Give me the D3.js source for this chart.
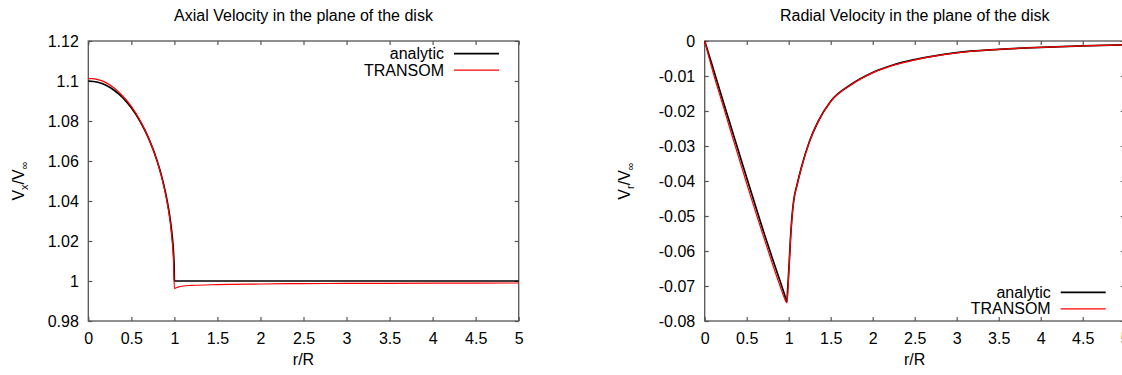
<!DOCTYPE html>
<html>
<head>
<meta charset="utf-8">
<script src="https://cdn.jsdelivr.net/npm/d3@7"></script>
<style>
  body { margin: 0; background: #fff; }
  svg { display: block; font-family: "Liberation Sans", Arial, sans-serif; }
  .tick text { font-size: 16px; fill: #000; }
  .tick line { stroke: #555; stroke-width: 1.2; }
</style>
</head>
<body>
<svg id="chart" width="1122" height="375"></svg>
<script>
// x ticks shared by both panels
const xTicks = [0, 0.5, 1, 1.5, 2, 2.5, 3, 3.5, 4, 4.5, 5];
const axialTicks = [0.98, 1, 1.02, 1.04, 1.06, 1.08, 1.1, 1.12];
const radialTicks = [-0.08, -0.07, -0.06, -0.05, -0.04, -0.03, -0.02, -0.01, 0];

// axial velocity, analytic
const axialAnalyticR = [0, 0.1, 0.2, 0.3, 0.4, 0.5, 0.6, 0.7, 0.8, 0.85, 0.9, 0.95, 0.97, 0.99, 0.998, 1.0, 2.0, 3.0, 4.0, 5.0];
const axialAnalyticV = [1.1, 1.0995, 1.098, 1.0954, 1.0917, 1.0866, 1.08, 1.0714, 1.06, 1.0527, 1.0436, 1.0312, 1.0243, 1.014, 1.006, 1.0, 1.0, 1.0, 1.0, 1.0];

// axial velocity, TRANSOM
const axialTransomR = [0, 0.05, 0.1, 0.2, 0.3, 0.4, 0.5, 0.6, 0.7, 0.8, 0.85, 0.9, 0.95, 0.97, 0.99, 1.0, 1.05, 1.1, 1.2, 1.5, 2, 2.5, 3, 4, 5];
const axialTransomV = [1.1012, 1.1012, 1.1008, 1.0993, 1.0965, 1.0925, 1.0873, 1.0804, 1.0716, 1.0598, 1.0522, 1.0428, 1.03, 1.022, 1.01, 0.9963, 0.9971, 0.9975, 0.9978, 0.9982, 0.9985, 0.9987, 0.9988, 0.9989, 0.999];

// radial velocity, analytic
const radialAnalyticR = [0, 0.1, 0.2, 0.3, 0.4, 0.5, 0.6, 0.7, 0.8, 0.9, 0.95, 0.976, 0.99, 1.005, 1.02, 1.04, 1.06, 1.1, 1.15, 1.25, 1.35, 1.5, 1.75, 2.0, 2.25, 2.5, 3.0, 3.5, 4.0, 4.5, 5.0];
const radialAnalyticV = [0, -0.0078, -0.0157, -0.0235, -0.0313, -0.0391, -0.0468, -0.0544, -0.0617, -0.0688, -0.0724, -0.0745, -0.07, -0.064, -0.057, -0.05, -0.0455, -0.041, -0.0362, -0.0285, -0.023, -0.0172, -0.0123, -0.009, -0.0068, -0.0053, -0.0033, -0.0024, -0.0018, -0.0014, -0.0011];

// radial velocity, TRANSOM
const radialTransomR = [0, 0.05, 0.1, 0.2, 0.3, 0.4, 0.5, 0.6, 0.7, 0.8, 0.9, 0.95, 0.98, 0.992, 1.005, 1.02, 1.04, 1.06, 1.1, 1.15, 1.25, 1.35, 1.5, 1.75, 2.0, 2.25, 2.5, 3.0, 3.5, 4.0, 4.5, 5.0];
const radialTransomV = [0, -0.0046, -0.009, -0.017, -0.025, -0.0329, -0.0407, -0.0484, -0.0559, -0.0632, -0.0702, -0.0735, -0.0748, -0.0705, -0.0643, -0.0573, -0.0503, -0.0457, -0.0411, -0.0363, -0.0286, -0.0231, -0.0173, -0.0124, -0.0091, -0.0069, -0.0054, -0.0034, -0.0024, -0.0018, -0.0014, -0.0011];

const seriesNames = ['analytic', 'TRANSOM'];
const seriesColors = ['#000000', '#ff0000'];
const seriesWidths = [1.7, 1.2];

const svg = d3.select('#chart');

function zip(rs, vs) {
    return rs.map((r, i) => ({ r: r, v: vs[i] }));
}

function fmt(d) {
    return String(+d.toFixed(2));
}

function drawPanel(opts) {
    const { left, right, top, bottom } = opts;
    const x = d3.scaleLinear().domain([0, 5]).range([left, right]);
    const y = d3.scaleLinear().domain(opts.yDomain).range([bottom, top]);
    const g = svg.append('g');

    // Title
    g.append('text')
        .attr('x', (left + right) / 2)
        .attr('y', 20.5)
        .attr('text-anchor', 'middle')
        .style('font-size', '16px')
        .text(opts.title);

    // Axes, ticks pointing inward
    const bottomAxis = g.append('g')
        .attr('transform', `translate(0,${bottom})`)
        .call(d3.axisBottom(x).tickValues(xTicks).tickSize(-4).tickPadding(11.7).tickFormat(fmt));
    const topAxis = g.append('g')
        .attr('transform', `translate(0,${top})`)
        .call(d3.axisTop(x).tickValues(xTicks).tickSize(-4).tickFormat(''));
    const leftAxis = g.append('g')
        .attr('transform', `translate(${left},0)`)
        .call(d3.axisLeft(y).tickValues(opts.yTicks).tickSize(-4).tickPadding(9.5).tickFormat(fmt));
    const rightAxis = g.append('g')
        .attr('transform', `translate(${right},0)`)
        .call(d3.axisRight(y).tickValues(opts.yTicks).tickSize(-4).tickFormat(''));
    [bottomAxis, topAxis, leftAxis, rightAxis].forEach(a => a.select('.domain').remove());

    // Border
    g.append('rect')
        .attr('x', left).attr('y', top)
        .attr('width', right - left).attr('height', bottom - top)
        .attr('fill', 'none')
        .attr('stroke', '#555')
        .attr('stroke-width', 1.3);

    // Curves
    const line = d3.line()
        .x(d => x(d.r))
        .y(d => y(d.v))
        .curve(d3.curveMonotoneX);
    opts.series.forEach((s, i) => {
        g.append('path')
            .datum(s)
            .attr('fill', 'none')
            .attr('stroke', seriesColors[i])
            .attr('stroke-width', seriesWidths[i])
            .attr('stroke-linejoin', 'round')
            .attr('d', line);
    });

    // Axis labels
    g.append('text')
        .attr('x', (left + right) / 2)
        .attr('y', 365)
        .attr('text-anchor', 'middle')
        .style('font-size', '16px')
        .text('r/R');

    const yl = g.append('text')
        .attr('transform', `translate(${opts.yLabelX},${(top + bottom) / 2}) rotate(-90)`)
        .attr('text-anchor', 'middle')
        .style('font-size', '16px');
    yl.append('tspan').text('V');
    yl.append('tspan').attr('dy', 4).style('font-size', '11px').text(opts.sub);
    yl.append('tspan').attr('dy', -4).text('/V');
    yl.append('tspan').attr('dy', 4).style('font-size', '11px').text('\u221e');

    // Legend
    const lg = g.append('g');
    seriesNames.forEach((name, i) => {
        const by = opts.legendY + i * 16.5;
        lg.append('text')
            .attr('x', opts.legendX)
            .attr('y', by)
            .attr('text-anchor', 'end')
            .style('font-size', '16px')
            .text(name);
        lg.append('line')
            .attr('x1', opts.legendX + 10).attr('x2', opts.legendX + 55)
            .attr('y1', by - 5.5).attr('y2', by - 5.5)
            .attr('stroke', seriesColors[i])
            .attr('stroke-width', seriesWidths[i]);
    });
}

drawPanel({
    left: 88.3, right: 518.7, top: 41, bottom: 321,
    yDomain: [0.98, 1.12], yTicks: axialTicks,
    title: 'Axial Velocity in the plane of the disk',
    sub: 'x', yLabelX: 23.5,
    legendX: 444, legendY: 59.2,
    series: [zip(axialAnalyticR, axialAnalyticV), zip(axialTransomR, axialTransomV)]
});

drawPanel({
    left: 704.7, right: 1124.7, top: 41, bottom: 321,
    yDomain: [-0.08, 0], yTicks: radialTicks,
    title: 'Radial Velocity in the plane of the disk',
    sub: 'r', yLabelX: 630,
    legendX: 1050.7, legendY: 297.8,
    series: [zip(radialAnalyticR, radialAnalyticV), zip(radialTransomR, radialTransomV)]
});
</script>
</body>
</html>
